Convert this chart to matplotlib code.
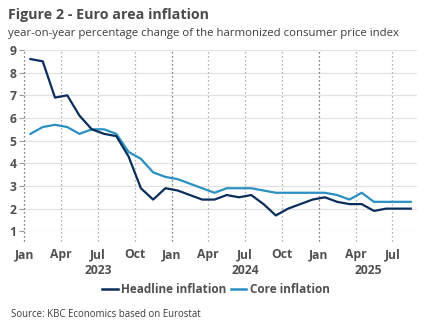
import numpy as np
import matplotlib
matplotlib.use("Agg")
import matplotlib.pyplot as plt
from matplotlib.lines import Line2D

plt.rcParams["font.family"] = ["Open Sans", "DejaVu Sans"]

# Monthly euro area HICP, Jan 2023 - Aug 2025 (y/y %)
months = ["Jan", "Feb", "Mar", "Apr", "May", "Jun", "Jul", "Aug", "Sep", "Oct", "Nov", "Dec"] * 2 \
    + ["Jan", "Feb", "Mar", "Apr", "May", "Jun", "Jul", "Aug"]
headline = [8.6, 8.5, 6.9, 7.0, 6.1, 5.5, 5.3, 5.2, 4.3, 2.9, 2.4, 2.9,
            2.8, 2.6, 2.4, 2.4, 2.6, 2.5, 2.6, 2.2, 1.7, 2.0, 2.2, 2.4,
            2.5, 2.3, 2.2, 2.2, 1.9, 2.0, 2.0, 2.0]
core = [5.3, 5.6, 5.7, 5.6, 5.3, 5.5, 5.5, 5.3, 4.5, 4.2, 3.6, 3.4,
        3.3, 3.1, 2.9, 2.7, 2.9, 2.9, 2.9, 2.8, 2.7, 2.7, 2.7, 2.7,
        2.7, 2.6, 2.4, 2.7, 2.3, 2.3, 2.3, 2.3]
years = ["2023", "2024", "2025"]
year_counts = [12, 12, 8]

navy = "#0b2d5b"
blue = "#2a90c2"
text_grey = "#505050"

fig = plt.figure(figsize=(4.32, 3.34), dpi=100)
ax = fig.add_axes([0.0563, 0.3075, 0.9087, 0.5428])

n = len(headline)
x = np.arange(n) + 0.5  # points sit in the middle of each month

# horizontal grid
for v in range(1, 10):
    ax.axhline(v, color="#e2e2e2", linewidth=0.9, zorder=0)

# quarter separators, darker at year starts, running a little below the axis
for q in range(0, n, 3):
    dark = q % 12 == 0
    ax.axvline(q, ymin=-0.055, ymax=1, clip_on=False,
               color="#555555" if dark else "#9a9a9a",
               linestyle=(0, (1, 2.2)), linewidth=0.9, zorder=1)

ax.plot(x, headline, color=navy, linewidth=1.6, zorder=3)
ax.plot(x, core, color=blue, linewidth=1.6, zorder=2)

ax.set_xlim(0, 32)
ax.set_ylim(1, 9)
for s in ax.spines.values():
    s.set_visible(False)

ax.set_yticks(range(1, 10))
ax.set_yticklabels([str(v) for v in range(1, 10)], fontweight="bold",
                   color=text_grey, fontsize=8.7)
ax.tick_params(axis="y", length=3.5, color="#9a9a9a", width=0.8, pad=2)

qt = list(range(0, n, 3))
ax.set_xticks(qt)
ax.set_xticklabels([months[i] for i in qt], fontweight="bold",
                   color=text_grey, fontsize=8.7)
ax.tick_params(axis="x", length=0, pad=12)

# year labels centred under each year's months
start = 0
for yr, cnt in zip(years, year_counts):
    ax.text(start + cnt / 2, -0.215, yr, transform=ax.get_xaxis_transform(),
            ha="center", va="center", fontweight="bold", color=text_grey,
            fontsize=8.7)
    start += cnt

fig.text(0.018, 0.955, "Figure 2 - Euro area inflation", fontsize=10.3,
         fontweight="bold", color="#4a4a4a", va="center")
fig.text(0.018, 0.900,
         "year-on-year percentage change of the harmonized consumer price index",
         fontsize=8.2, color="#3c3c3c", va="center")

handles = [Line2D([], [], color=navy, linewidth=1.8),
           Line2D([], [], color=blue, linewidth=1.8)]
fig.legend(handles, ["Headline inflation", "Core inflation"], loc="center",
           bbox_to_anchor=(0.5, 0.132), ncol=2, frameon=False,
           handlelength=1.3, handletextpad=0.3, columnspacing=0.4,
           prop={"weight": "bold", "size": 8.5}, labelcolor=text_grey)

fig.text(0.025, 0.058, "Source: KBC Economics based on Eurostat",
         fontsize=6.9, color="#3c3c3c", va="center")

fig.savefig("out.png", dpi=100)
